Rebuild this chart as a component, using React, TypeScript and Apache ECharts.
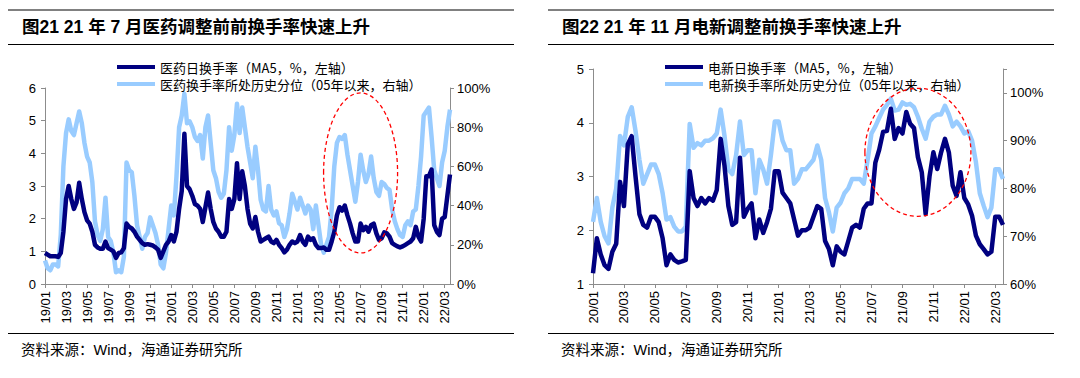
import React, { useEffect, useRef } from "react";
import * as echarts from "echarts";

// ---------- data (4 readings per month) ----------
const PER_MONTH = 4;
const medStartYear = 2019;
const evStartYear = 2020;

// 医药日换手率（MA5，%） left chart, from 2019/01
const medTurnover = [
  0.95, 0.9, 0.85, 0.85, 0.85, 0.83, 0.95, 1.6, 2.6, 3.0, 2.6, 2.3, 2.5, 3.1, 2.6, 2.2,
  1.95, 1.85, 1.6, 1.2, 1.12, 1.08, 1.08, 1.3, 1.1, 1.05, 1.0, 0.8, 0.95, 0.97, 1.1, 1.85,
  1.75, 1.7, 1.6, 1.45, 1.35, 1.25, 1.2, 1.22, 1.2, 1.18, 1.12, 1.05, 0.8, 1.0, 1.2, 1.3,
  1.5, 1.3, 1.6, 2.3, 2.85, 4.6, 3.0, 2.9, 2.7, 2.45, 2.4, 2.3, 1.9, 2.35, 2.8, 2.3,
  1.9, 1.7, 1.6, 1.45, 1.45, 1.6, 2.6, 2.3, 2.6, 3.7, 2.6, 3.45, 3.0, 2.3, 1.85, 1.7,
  2.05, 1.6, 1.3, 1.35, 1.4, 1.45, 1.3, 1.25, 1.35, 1.2, 1.1, 0.97, 1.05, 1.2, 1.3, 1.25,
  1.3, 1.5, 1.3, 1.2, 1.45, 1.35, 1.4, 1.2, 1.1, 1.1, 1.12, 1.05, 1.05, 1.3, 1.6, 2.1,
  2.35, 2.25, 2.4, 2.1, 1.85, 1.55, 1.3, 1.3, 1.85, 1.65, 1.75, 1.6, 1.8, 1.85, 1.55, 1.35,
  1.4, 1.58, 1.55, 1.45, 1.25, 1.2, 1.15, 1.12, 1.15, 1.2, 1.25, 1.3, 1.4, 1.75, 1.45, 1.3,
  2.0, 3.3, 3.3, 3.5, 1.8, 1.6, 1.5, 2.0, 2.05, 2.7, 3.35,
];

// 医药换手率所处历史分位（%） right axis of left chart
const medPercentile = [
  12, 8, 7, 10, 10, 9, 25, 60, 77, 84, 78, 76, 82, 88, 82, 72,
  65, 62, 52, 32, 25, 22, 28, 44, 24, 22, 16, 6, 7, 6, 14, 62,
  58, 57, 45, 30, 24, 18, 24, 26, 34, 30, 26, 20, 10, 8, 16, 28,
  40, 35, 55, 80, 86, 97, 82, 83, 80, 75, 73, 76, 64, 80, 86, 72,
  58, 54, 47, 44, 46, 58, 80, 68, 76, 92, 77, 90, 80, 70, 62, 54,
  70, 58, 43, 38, 37, 50, 38, 35, 37, 31, 30, 24, 28, 36, 46, 42,
  38, 44, 40, 36, 40, 38, 28, 40, 30, 20, 16, 20, 24, 38, 60, 72,
  75, 74, 76, 66, 58, 50, 42, 52, 66, 58, 52, 56, 65, 54, 47, 45,
  52, 51, 49, 48, 38, 32, 28, 25, 24, 30, 32, 30, 37, 38, 50, 65,
  86, 88, 90, 75, 58, 54, 50, 62, 68, 80, 89,
];

// 电新日换手率（MA5，%） right chart, from 2020/01
const evTurnover = [
  1.2, 1.85, 1.55, 1.35, 1.28, 1.6, 1.75, 2.9, 2.45, 3.6, 3.75, 3.0, 2.3, 2.1, 2.05, 2.25,
  2.25, 2.15, 1.85, 1.35, 1.55, 1.45, 1.4, 1.42, 1.45, 3.1, 2.6, 2.45, 2.6, 2.5, 2.6, 2.55,
  2.75, 3.7, 3.2, 2.45, 2.1, 2.15, 3.35, 2.25, 2.4, 2.5, 1.85, 2.2, 1.95, 2.15, 2.4, 3.1,
  3.1, 2.7, 2.6, 2.5, 2.2, 1.9, 2.0, 2.0, 2.05, 2.25, 2.45, 2.4, 1.8, 1.65, 1.35, 1.7,
  1.6, 1.55, 1.8, 2.05, 2.1, 2.05, 2.4, 2.5, 2.5, 3.26, 3.5, 3.83, 3.85, 4.26, 3.7, 3.9,
  3.8, 4.2, 3.98, 3.9, 3.36, 3.08, 2.3, 3.0, 3.45, 3.14, 3.45, 3.7, 3.45, 2.83, 2.64, 3.08,
  2.6, 2.48, 2.27, 1.9, 1.74, 1.65, 1.55, 1.6, 2.25, 2.25, 2.1,
];

// 电新换手率所处历史分位（%） right axis of right chart
const evPercentile = [
  73, 78, 73, 70, 68.5, 76, 80, 91, 89, 95, 97, 92, 86, 81, 83, 85,
  85, 83, 79, 73.5, 74, 72, 71, 71, 72, 93.5, 88.5, 89.5, 89, 90, 90, 90.5,
  91.5, 96.5, 91, 84, 83, 87, 94, 87, 88, 88, 79, 86, 84, 81, 87, 94,
  94, 90, 88, 88, 81, 82, 84, 84, 85, 86, 89, 86, 78, 75, 71, 76,
  77, 79, 80, 82, 82, 82, 81, 86, 91.5, 93, 94.8, 96.5, 97.5, 98.8, 96.3, 96.5,
  98, 97.5, 97.7, 97, 95, 92.5, 90.4, 94, 95, 95.5, 95.5, 97.3, 95.5, 93, 94, 93,
  91.5, 92, 90, 85.5, 79, 76.4, 74, 76, 84, 84, 82,
];

const medNames = ["医药日换手率（MA5，%，左轴）", "医药换手率所处历史分位（05年以来，右轴）"];
const evNames = ["电新日换手率（MA5，%，左轴）", "电新换手率所处历史分位（05年以来，右轴）"];
const titles = ["图21 21 年 7 月医药调整前前换手率快速上升", "图22 21 年 11 月电新调整前换手率快速上升"];
const sourceText = "资料来源：Wind，海通证券研究所";

function buildCategories(startYear: number, count: number): string[] {
  const out: string[] = [];
  for (let i = 0; i < count; i++) {
    const m0 = Math.floor(i / PER_MONTH);
    const y = startYear + Math.floor(m0 / 12);
    const m = (m0 % 12) + 1;
    out.push(`${String(y).slice(2)}/${String(m).padStart(2, "0")}-${i % PER_MONTH}`);
  }
  return out;
}

const medCategories = buildCategories(medStartYear, medTurnover.length);
const evCategories = buildCategories(evStartYear, evTurnover.length);

const FONT = "'Liberation Sans', Arial, 'Noto Sans CJK SC', sans-serif";
const DARK = "#000080";
const LIGHT = "#99ccff";
const AXIS = "#8c8c8c";

export default function App() {
  const ref = useRef<HTMLDivElement>(null);

  useEffect(() => {
    if (!ref.current) return;
    const chart = echarts.init(ref.current, undefined, { renderer: "svg" });

    const every2 = (i: number) => i % (PER_MONTH * 2) === 0;
    const xAxisBase = (gridIndex: number, data: string[]) => ({
      type: "category",
      gridIndex,
      data,
      boundaryGap: false,
      axisLine: { lineStyle: { color: AXIS, width: 1 } },
      axisTick: { interval: every2, length: 4, lineStyle: { color: AXIS } },
      axisLabel: {
        interval: every2,
        rotate: 90,
        margin: 7,
        color: "#000",
        fontSize: 13,
        fontFamily: FONT,
        formatter: (v: string) => v.slice(0, 5),
      },
      splitLine: { show: false },
    });
    const yAxisBase = (gridIndex: number, min: number, max: number, interval: number, pct: boolean, right: boolean) => ({
      type: "value",
      gridIndex,
      min,
      max,
      interval,
      position: right ? "right" : "left",
      axisLine: { show: true, lineStyle: { color: AXIS, width: 1 } },
      axisTick: { show: true, length: 4, lineStyle: { color: AXIS } },
      axisLabel: {
        color: "#000",
        fontSize: 13,
        fontFamily: FONT,
        margin: right ? 7 : 9,
        formatter: (v: number) => (pct ? (v > 100 ? "" : `${v}%`) : `${v}`),
      },
      splitLine: { show: false },
    });

    const legendBase = (left: number, names: string[]) => ({
      left,
      top: 60,
      orient: "vertical",
      icon: "rect",
      itemWidth: 38,
      itemHeight: 4,
      itemGap: 3,
      padding: [0, 4, 0, 0],
      backgroundColor: "#fff",
      data: names,
      textStyle: { fontSize: 13, color: "#000", fontFamily: "'Noto Sans CJK SC', sans-serif", lineHeight: 14, padding: [0, 0, 0, 0] },
    });

    const lineSeries = (name: string, xi: number, yi: number, data: number[], color: string, z: number) => ({
      name,
      type: "line",
      xAxisIndex: xi,
      yAxisIndex: yi,
      data,
      showSymbol: false,
      symbol: "none",
      lineStyle: { width: 4.5, color, join: "round" },
      itemStyle: { color },
      z,
    });

    const option: any = {
      animation: false,
      textStyle: { fontFamily: FONT },
      grid: [
        { left: 45, top: 88, width: 405, height: 196, containLabel: false },
        { left: 593, top: 69, width: 410, height: 215, containLabel: false },
      ],
      xAxis: [xAxisBase(0, medCategories), xAxisBase(1, evCategories)],
      yAxis: [
        yAxisBase(0, 0, 6, 1, false, false),
        yAxisBase(0, 0, 100, 20, true, true),
        yAxisBase(1, 1, 5, 1, false, false),
        yAxisBase(1, 60, 105, 10, true, true),
      ],
      legend: [legendBase(117, medNames), legendBase(665, evNames)],
      series: [
        lineSeries(medNames[1], 0, 1, medPercentile, LIGHT, 2),
        lineSeries(medNames[0], 0, 0, medTurnover, DARK, 3),
        lineSeries(evNames[1], 1, 3, evPercentile, LIGHT, 2),
        lineSeries(evNames[0], 1, 2, evTurnover, DARK, 3),
      ],
    };
    chart.setOption(option);

    const panel = (dx: number, title: string) => [
      { type: "line", shape: { x1: 8 + dx, y1: 10, x2: 514 + dx, y2: 10 }, style: { stroke: "#808080", lineWidth: 2 } },
      {
        type: "text",
        x: 22 + dx,
        y: 27,
        style: { text: title, fill: "#000", font: `bold 17.5px ${FONT}`, verticalAlign: "middle" },
      },
      { type: "line", shape: { x1: 8 + dx, y1: 44.5, x2: 514 + dx, y2: 44.5 }, style: { stroke: "#000", lineWidth: 1 } },
      { type: "line", shape: { x1: 8 + dx, y1: 333.5, x2: 514 + dx, y2: 333.5 }, style: { stroke: "#000", lineWidth: 1 } },
      {
        type: "text",
        x: 21 + dx,
        y: 350,
        style: { text: sourceText, fill: "#000", font: `14.5px ${FONT}`, verticalAlign: "middle" },
      },
    ];

    const c1 = chart.convertToPixel({ xAxisIndex: 0, yAxisIndex: 0 } as any, [120, 3.4]) as number[];
    const c2 = chart.convertToPixel({ xAxisIndex: 1, yAxisIndex: 2 } as any, [83.5, 3.45]) as number[];
    const ell = (c: number[], rx: number, ry: number) => ({
      type: "ellipse",
      z: 100,
      shape: { cx: c[0], cy: c[1], rx, ry },
      style: { fill: "none", stroke: "#ff0000", lineWidth: 1.3, lineDash: [4, 3] },
    });

    chart.setOption({
      graphic: { elements: [...panel(0, titles[0]), ...panel(540, titles[1]), ell(c1, 37, 80), ell(c2, 53, 64)] },
    });

    return () => chart.dispose();
  }, []);

  return <div ref={ref} style={{ position: "absolute", left: 0, top: 0, width: 1080, height: 378 }} />;
}
